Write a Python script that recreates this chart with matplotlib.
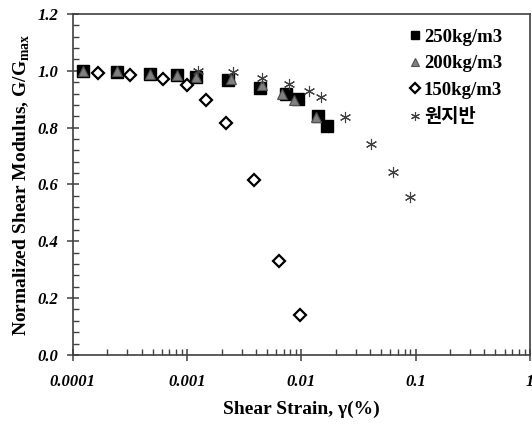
import matplotlib
matplotlib.use('Agg')
import matplotlib.pyplot as plt
from matplotlib.ticker import LogLocator, FuncFormatter, MultipleLocator
import numpy as np

plt.rcParams['mathtext.fontset'] = 'custom'
plt.rcParams['mathtext.rm'] = 'Liberation Serif'
plt.rcParams['mathtext.bf'] = 'Liberation Serif:bold'

# données
strain_250 = [0.000123, 0.000241, 0.000472, 0.000818, 0.00119, 0.00229,
              0.00434, 0.00728, 0.00938, 0.0140, 0.0168]
ratio_250 = [1.0, 0.996, 0.988, 0.985, 0.979, 0.968, 0.94, 0.92, 0.90, 0.842, 0.807]

strain_200 = [0.000123, 0.000241, 0.000472, 0.000818, 0.00119, 0.0024,
              0.00449, 0.00671, 0.00866, 0.0133]
ratio_200 = [1.0, 1.0, 0.99, 0.985, 0.98, 0.97, 0.95, 0.92, 0.897, 0.836]

strain_150 = [0.000166, 0.000318, 0.000617, 0.000989, 0.00146, 0.00221,
              0.00384, 0.0064, 0.0097]
ratio_150 = [0.992, 0.985, 0.97, 0.95, 0.897, 0.818, 0.614, 0.33, 0.14]

strain_site = [0.00125, 0.0025, 0.00449, 0.00782, 0.0117, 0.0150,
               0.0240, 0.0404, 0.0637, 0.0891]
ratio_site = [1.0, 0.996, 0.976, 0.953, 0.93, 0.907, 0.836, 0.742, 0.643, 0.555]

labels = ['250kg/m3', '200kg/m3', '150kg/m3', '원지반']

fig = plt.figure(figsize=(5.32, 4.25), dpi=100)
ax = fig.add_axes([0.137, 0.165, 0.859, 0.802])

ax.plot(strain_250, ratio_250, ls='none', marker='s', ms=8, mfc='black',
        mec='black', label=labels[0])
ax.plot(strain_200, ratio_200, ls='none', marker='^', ms=7, mfc='#808080',
        mec='#505050', mew=0.8, label=labels[1])
ax.plot(strain_150, ratio_150, ls='none', marker='D', ms=6, mfc='white',
        mec='black', mew=1.6, label=labels[2])
ax.plot(strain_site, ratio_site, ls='none', marker=(6, 2, 0), ms=8,
        mec='#404040', mew=0.8, label=labels[3])

ax.set_xscale('log')
ax.set_xlim(0.0001, 1)
ax.set_ylim(0, 1.2)

ax.xaxis.set_major_locator(LogLocator(base=10))
ax.xaxis.set_minor_locator(LogLocator(base=10, subs=np.arange(2, 10)))
ax.xaxis.set_major_formatter(FuncFormatter(lambda v, p: '%g' % v))
ax.yaxis.set_major_locator(MultipleLocator(0.2))
ax.yaxis.set_minor_locator(MultipleLocator(0.04))
ax.yaxis.set_major_formatter(FuncFormatter(lambda v, p: '%.1f' % v))

ax.tick_params(which='major', direction='inout', length=9, width=1.1,
               color='#404040', pad=6)
ax.tick_params(which='minor', direction='in', length=4, width=1.0,
               color='#404040')
for lab in ax.get_xticklabels() + ax.get_yticklabels():
    lab.set_family('Liberation Serif')
    lab.set_style('italic')
    lab.set_weight('bold')
    lab.set_size(12)
ax.tick_params(axis='x', pad=9)

for sp in ax.spines.values():
    sp.set_color('#404040')
    sp.set_linewidth(1.2)

ax.set_xlabel('Shear Strain, γ(%)', family='Liberation Serif',
              weight='bold', size=14, labelpad=8)
ax.set_ylabel('Normalized Shear Modulus, G/G$_{\\mathbf{max}}$',
              family='Liberation Serif', weight='bold', size=14, labelpad=4)

leg = ax.legend(loc='upper right', bbox_to_anchor=(0.968, 0.995),
                frameon=False, handlelength=0.5, markerscale=0.8,
                handletextpad=0.2, labelspacing=0.5, borderaxespad=0.3,
                prop={'family': ['Liberation Serif', 'Noto Sans CJK KR'],
                      'weight': 'bold', 'size': 13.5})

fig.savefig('out.png', dpi=100)
